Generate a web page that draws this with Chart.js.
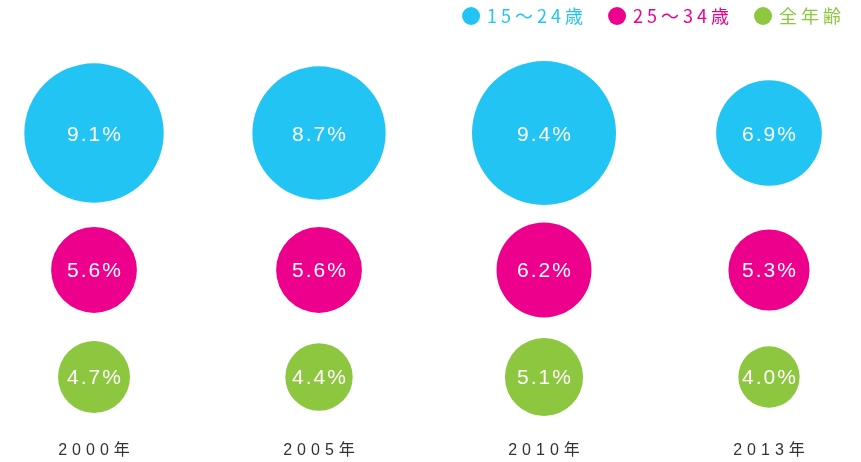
<!DOCTYPE html>
<html><head><meta charset="utf-8">
<script src="https://cdn.jsdelivr.net/npm/chart.js@4.4.1/dist/chart.umd.min.js"></script>
<style>html,body{margin:0;padding:0;background:#fff}#wrap{width:861px;height:462px;position:relative}</style>
</head><body><div id="wrap"><canvas id="c" width="861" height="462"></canvas></div>
<script>
// ---- data ----
const categories = ['2000年', '2005年', '2010年', '2013年'];
const seriesNames = ['15～24歳', '25～34歳', '全年齢'];
const age15to24 = [9.1, 8.7, 9.4, 6.9];
const age25to34 = [5.6, 5.6, 6.2, 5.3];
const allAges = [4.7, 4.4, 5.1, 4.0];

// ---- presentation ----
const colors = ['#22c4f3', '#ec008c', '#8dc63f'];
const rowLevels = [2.28, 1, 0];          // vertical row of each series
const RADIUS_PER_PCT = 7.66;             // bubble radius (px) per percentage point
const allSeries = [age15to24, age25to34, allAges];

const datasets = allSeries.map((vals, s) => ({
  label: seriesNames[s],
  backgroundColor: colors[s],
  borderWidth: 0,
  hoverBorderWidth: 0,
  clip: false,
  data: vals.map((v, i) => ({ x: i, y: rowLevels[s], r: v * RADIUS_PER_PCT, v: v }))
}));

function spacedWidth(ctx, text, ls) {
  return ctx.measureText(text).width - ls;
}

const labelPlugin = {
  id: 'labels',
  afterDatasetsDraw(chart) {
    const ctx = chart.ctx;
    ctx.save();
    // values inside bubbles
    ctx.font = '21px "Liberation Sans", Arial, sans-serif';
    ctx.letterSpacing = '2px';
    ctx.fillStyle = '#ffffff';
    ctx.textAlign = 'left';
    ctx.textBaseline = 'alphabetic';
    chart.data.datasets.forEach((ds, di) => {
      const meta = chart.getDatasetMeta(di);
      meta.data.forEach((el, i) => {
        const t = ds.data[i].v.toFixed(1) + '%';
        const w = spacedWidth(ctx, t, 2);
        ctx.fillText(t, el.x - w / 2, el.y + 7.5);
      });
    });
    // category labels under columns
    ctx.font = '16px "Liberation Sans", "Noto Sans CJK JP", sans-serif';
    ctx.letterSpacing = '5px';
    ctx.fillStyle = '#333333';
    const xs = chart.scales.x;
    categories.forEach((c, i) => {
      const w = spacedWidth(ctx, c, 5);
      ctx.fillText(c, xs.getPixelForValue(i) - w / 2, 455);
    });
    // legend, top right
    ctx.font = '18px "Noto Sans CJK JP", sans-serif';
    ctx.letterSpacing = '4px';
    const dotR = 9, gapDot = 7, gapItem = 25;
    const widths = seriesNames.map(n => spacedWidth(ctx, n, 4));
    let total = 0;
    widths.forEach((w, i) => { total += dotR * 2 + gapDot + w + (i < widths.length - 1 ? gapItem : 0); });
    let x = 841 - total;
    const y = 16;
    seriesNames.forEach((n, i) => {
      ctx.fillStyle = colors[i];
      ctx.beginPath();
      ctx.arc(x + dotR, y, dotR, 0, Math.PI * 2);
      ctx.fill();
      x += dotR * 2 + gapDot;
      ctx.fillText(n, x, y + 7);
      x += widths[i] + gapItem;
    });
    ctx.restore();
  }
};

new Chart(document.getElementById('c'), {
  type: 'bubble',
  data: { datasets },
  options: {
    responsive: false,
    animation: false,
    events: [],
    devicePixelRatio: 1,
    layout: { padding: 0 },
    plugins: { legend: { display: false }, tooltip: { enabled: false } },
    scales: {
      x: { type: 'linear', display: false, min: -0.0978, max: 3.0889 },
      y: { type: 'linear', display: false, min: -0.1215, max: 2.850 }
    }
  },
  plugins: [labelPlugin]
});
</script>
</body></html>
